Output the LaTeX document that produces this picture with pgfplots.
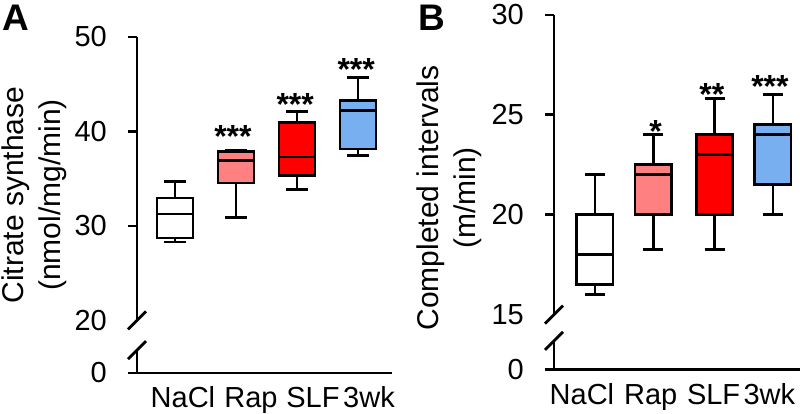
\documentclass[border=0pt]{standalone}
\usepackage{fontspec}
\setmainfont{Liberation Sans}
\usepackage{pgfplots}
\pgfplotsset{compat=1.18}
\usepgfplotslibrary{statistics}
\definecolor{rapc}{RGB}{255,128,128}
\definecolor{slfc}{RGB}{255,0,0}
\definecolor{wkc}{RGB}{120,175,240}
\tikzset{ax/.style={line width=2.8bp}}
\pgfplotsset{
  panel/.style={
    scale only axis, clip=false, anchor=south west,
    boxplot/draw direction=y,
    boxplot/every box/.style={draw=black, line width=2.8bp},
    boxplot/every whisker/.style={draw=black, line width=2.8bp},
    boxplot/every median/.style={draw=black, line width=2.8bp},
    axis x line*=bottom, axis y line*=left,
    axis line style={draw=none},
    tick align=outside, major tick length=9bp,
    ytick style={line width=2.8bp, black},
    xtick style={draw=none},
    tick label style={font=\fontsize{29bp}{34bp}\selectfont},
    /pgf/number format/assume math mode=true,
    yticklabel style={inner sep=0pt, xshift=-21bp},
    xticklabel style={anchor=base, inner sep=0pt, yshift=-26bp},
    extra y tick style={ytick style={draw=none}},
  },
  bx/.style={draw=black, line width=2.8bp, solid, mark=none},
}
\newcommand{\stars}{\fontsize{32bp}{36bp}\selectfont\bfseries}
\begin{document}
\begin{tikzpicture}
\path[use as bounding box] (0,0) rectangle (800bp,414bp);
% Panel A
\begin{axis}[panel, at={(137bp,41bp)}, width=255bp, height=336bp,
  xmin=0.377, xmax=4.557, ymin=14.44, ymax=50,
  ytick={14.44,30,40,50}, yticklabels={0,30,40,50},
  extra y ticks={20}, extra y tick labels={20},
  xtick={1.13,2.246,3.26,4.18}, xticklabels={NaCl,Rap,SLF,3wk}]
\addplot[boxplot prepared={draw position=1, lower whisker=28.3, lower quartile=28.73, median=31.27, upper quartile=32.96, upper whisker=34.7, box extend=0.59, whisker extend=0.36}, bx, fill=white] coordinates {};
\addplot[boxplot prepared={draw position=2, lower whisker=30.88, lower quartile=34.55, median=36.95, upper quartile=37.9, upper whisker=38.0, box extend=0.59, whisker extend=0.36}, bx, fill=rapc] coordinates {};
\addplot[boxplot prepared={draw position=3, lower whisker=33.84, lower quartile=35.32, median=37.3, upper quartile=40.97, upper whisker=42.1, box extend=0.59, whisker extend=0.36}, bx, fill=slfc] coordinates {};
\addplot[boxplot prepared={draw position=4, lower whisker=37.44, lower quartile=38.15, median=42.24, upper quartile=43.26, upper whisker=45.7, box extend=0.59, whisker extend=0.36}, bx, fill=wkc] coordinates {};
\draw[ax] (axis cs:0.377,50) -- (axis cs:0.377,20);
\draw[ax] (axis cs:0.377,16.87) -- (axis cs:0.377,14.44);
\draw[ax] (axis cs:0.229,14.44) -- (axis cs:4.557,14.44);
\draw[ax] (axis cs:0.377,20) ++(-9bp,-9bp) -- ++(18bp,18bp);
\draw[ax] (axis cs:0.377,16.87) ++(-9bp,-9bp) -- ++(18bp,18bp);
\node[font=\stars, yshift=-7bp] at (axis cs:1.95,40.16) {***};
\node[font=\stars, yshift=-7bp] at (axis cs:2.97,43.65) {***};
\node[font=\stars, yshift=-7bp] at (axis cs:3.97,47.25) {***};
\end{axis}
% Panel B
\begin{axis}[panel, at={(554bp,44.7bp)}, width=246bp, height=354.3bp,
  xmin=0.309, xmax=4.457, ymin=12.26, ymax=30,
  ytick={12.26,20,25,30}, yticklabels={0,20,25,30},
  extra y ticks={15}, extra y tick labels={15},
  xtick={0.78,1.94,3.0,3.94}, xticklabels={NaCl,Rap,SLF,3wk}]
\addplot[boxplot prepared={draw position=1, lower whisker=16.0, lower quartile=16.5, median=18.0, upper quartile=20.0, upper whisker=22.0, box extend=0.61, whisker extend=0.34}, bx, fill=white] coordinates {};
\addplot[boxplot prepared={draw position=1.98, lower whisker=18.25, lower quartile=20.0, median=22.0, upper quartile=22.5, upper whisker=24.0, box extend=0.61, whisker extend=0.34}, bx, fill=rapc] coordinates {};
\addplot[boxplot prepared={draw position=3.02, lower whisker=18.25, lower quartile=20.0, median=23.0, upper quartile=24.0, upper whisker=25.8, box extend=0.61, whisker extend=0.34}, bx, fill=slfc] coordinates {};
\addplot[boxplot prepared={draw position=4, lower whisker=20.0, lower quartile=21.5, median=24.0, upper quartile=24.5, upper whisker=26.0, box extend=0.61, whisker extend=0.34}, bx, fill=wkc] coordinates {};
\draw[ax] (axis cs:0.309,30) -- (axis cs:0.309,15);
\draw[ax] (axis cs:0.309,13.68) -- (axis cs:0.309,12.26);
\draw[ax] (axis cs:0.157,12.26) -- (axis cs:4.457,12.26);
\draw[ax] (axis cs:0.309,15) ++(-9bp,-9bp) -- ++(18bp,18bp);
\draw[ax] (axis cs:0.309,13.68) ++(-9bp,-9bp) -- ++(18bp,18bp);
\node[font=\stars, yshift=-7bp] at (axis cs:2.02,24.53) {*};
\node[font=\stars, yshift=-7bp] at (axis cs:2.97,26.39) {**};
\node[font=\stars, yshift=-7bp] at (axis cs:3.95,26.79) {***};
\end{axis}
\node[rotate=90, align=center, font=\fontsize{30bp}{37bp}\selectfont] at (34bp,219bp) {Citrate synthase\\(nmol/mg/min)};
\node[rotate=90, align=center, font=\fontsize{30bp}{37bp}\selectfont] at (449bp,216bp) {Completed intervals\\(m/min)};
\node[anchor=north west, inner sep=0pt, font=\fontsize{37bp}{40bp}\selectfont\bfseries] at (2bp,409bp) {A};
\node[anchor=north west, inner sep=0pt, font=\fontsize{37bp}{40bp}\selectfont\bfseries] at (418bp,409bp) {B};
\end{tikzpicture}
\end{document}
